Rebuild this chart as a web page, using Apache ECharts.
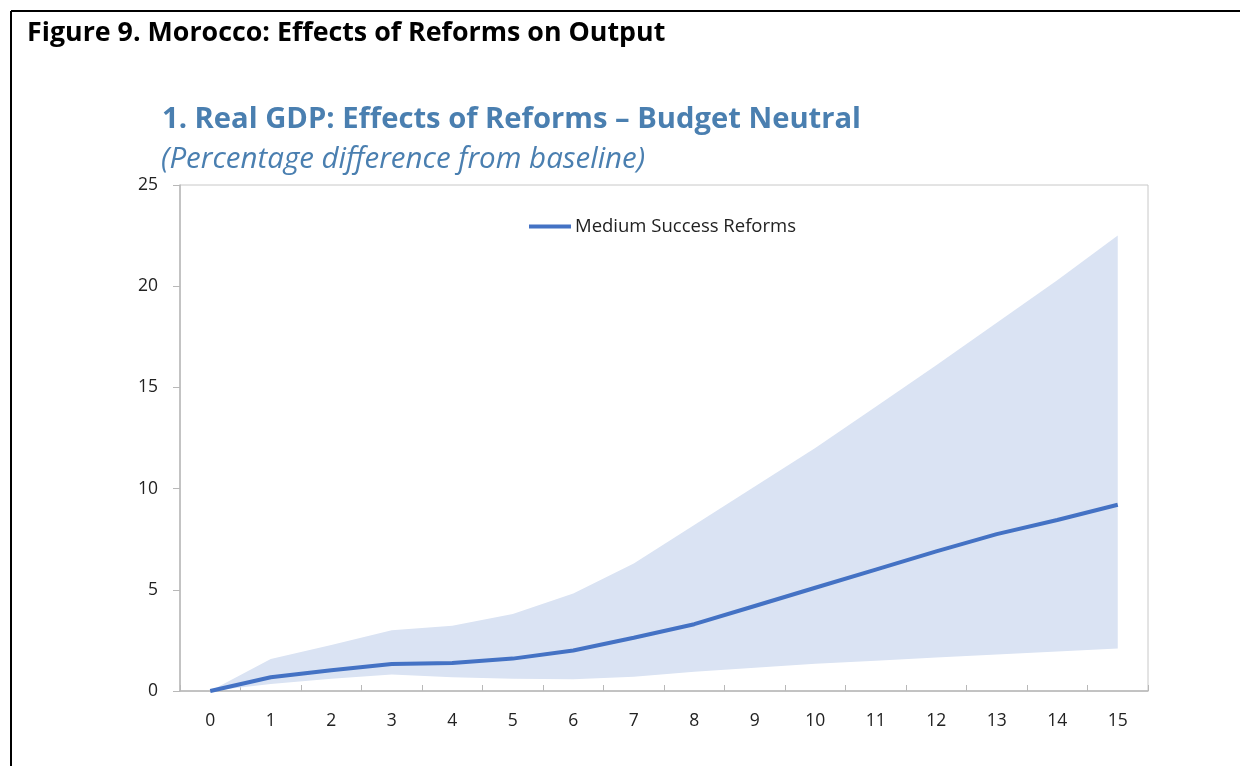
<!DOCTYPE html>
<html>
<head>
<meta charset="utf-8">
<script src="https://cdn.jsdelivr.net/npm/echarts@6/dist/echarts.min.js"></script>
<style>
  html, body { margin: 0; padding: 0; background: #fff; }
  #chart { width: 1240px; height: 766px; }
</style>
</head>
<body>
<div id="chart"></div>
<script>
// Years after reform start
const years = ['0','1','2','3','4','5','6','7','8','9','10','11','12','13','14','15'];
// Medium-success reform path (% difference from baseline)
const medium = [0, 0.68, 1.03, 1.33, 1.38, 1.6, 2.0, 2.63, 3.3, 4.2, 5.1, 6.0, 6.9, 7.75, 8.45, 9.2];
// Range of outcomes: low and high success bounds
const lowBound  = [0, 0.35, 0.6, 0.82, 0.68, 0.6, 0.58, 0.7, 0.95, 1.15, 1.35, 1.5, 1.65, 1.8, 1.95, 2.1];
const highBound = [0, 1.58, 2.27, 3.0, 3.22, 3.8, 4.82, 6.3, 8.2, 10.1, 12.0, 14.05, 16.1, 18.2, 20.3, 22.5];
const yTicks = { min: 0, max: 25, interval: 5 };

const bandHeight = highBound.map((v, i) => +(v - lowBound[i]).toFixed(3));

const chart = echarts.init(document.getElementById('chart'), null, { renderer: 'canvas' });
const font = '"Open Sans", "Noto Sans", sans-serif';
const blue = '#4a7fb0';

chart.setOption({
  animation: false,
  backgroundColor: '#fff',
  textStyle: { fontFamily: font },
  graphic: [
    // figure frame (top and left rules)
    { type: 'line', shape: { x1: 11, y1: 11, x2: 1240, y2: 11 }, style: { stroke: '#000', lineWidth: 2 } },
    { type: 'line', shape: { x1: 11, y1: 11, x2: 11, y2: 766 }, style: { stroke: '#000', lineWidth: 2 } },
    { type: 'text', x: 27, y: 33, style: { text: 'Figure 9. Morocco: Effects of Reforms on Output', font: 'bold 26.8px ' + font, fill: '#000', verticalAlign: 'middle' } },
    { type: 'text', x: 162, y: 120, style: { text: '1. Real GDP: Effects of Reforms \u2013 Budget Neutral', font: 'bold 29.2px ' + font, fill: blue, verticalAlign: 'middle' } },
    { type: 'text', x: 161, y: 160, style: { text: '(Percentage difference from baseline)', font: 'italic 29.5px ' + font, fill: blue, verticalAlign: 'middle' } }
  ],
  legend: {
    data: ['Medium Success Reforms'],
    left: 524,
    top: 212,
    icon: 'rect',
    itemWidth: 42,
    itemHeight: 4,
    textStyle: { fontSize: 18.5, color: '#222', fontFamily: font, padding: [0, 0, 0, -1] }
  },
  grid: {
    left: 180, right: 92, top: 185, bottom: 75,
    show: true, borderColor: '#c8c8c8', borderWidth: 1
  },
  xAxis: {
    type: 'category',
    data: years,
    boundaryGap: true,
    axisLine: { lineStyle: { color: '#b8b8b8', width: 1.5 } },
    axisTick: { show: true, inside: true, length: 6, lineStyle: { color: '#b8b8b8' } },
    axisLabel: { color: '#222', fontSize: 17.5, margin: 21, fontFamily: font },
    splitLine: { show: false }
  },
  yAxis: {
    type: 'value',
    min: yTicks.min, max: yTicks.max, interval: yTicks.interval,
    axisLine: { show: true, lineStyle: { color: '#b8b8b8', width: 1.5 } },
    axisTick: { show: true, length: 7, lineStyle: { color: '#b8b8b8' } },
    axisLabel: { color: '#222', fontSize: 17.5, margin: 22, fontFamily: font },
    splitLine: { show: false }
  },
  series: [
    {
      name: 'low', type: 'line', stack: 'band', data: lowBound,
      symbol: 'none', lineStyle: { opacity: 0 }, silent: true
    },
    {
      name: 'range', type: 'line', stack: 'band', data: bandHeight,
      symbol: 'none', lineStyle: { opacity: 0 },
      areaStyle: { color: '#dae3f3', opacity: 1 }, silent: true
    },
    {
      name: 'Medium Success Reforms', type: 'line', data: medium,
      symbol: 'none', z: 5,
      itemStyle: { color: '#4472c4' },
      lineStyle: { color: '#4472c4', width: 4 }
    }
  ]
});
</script>
</body>
</html>
